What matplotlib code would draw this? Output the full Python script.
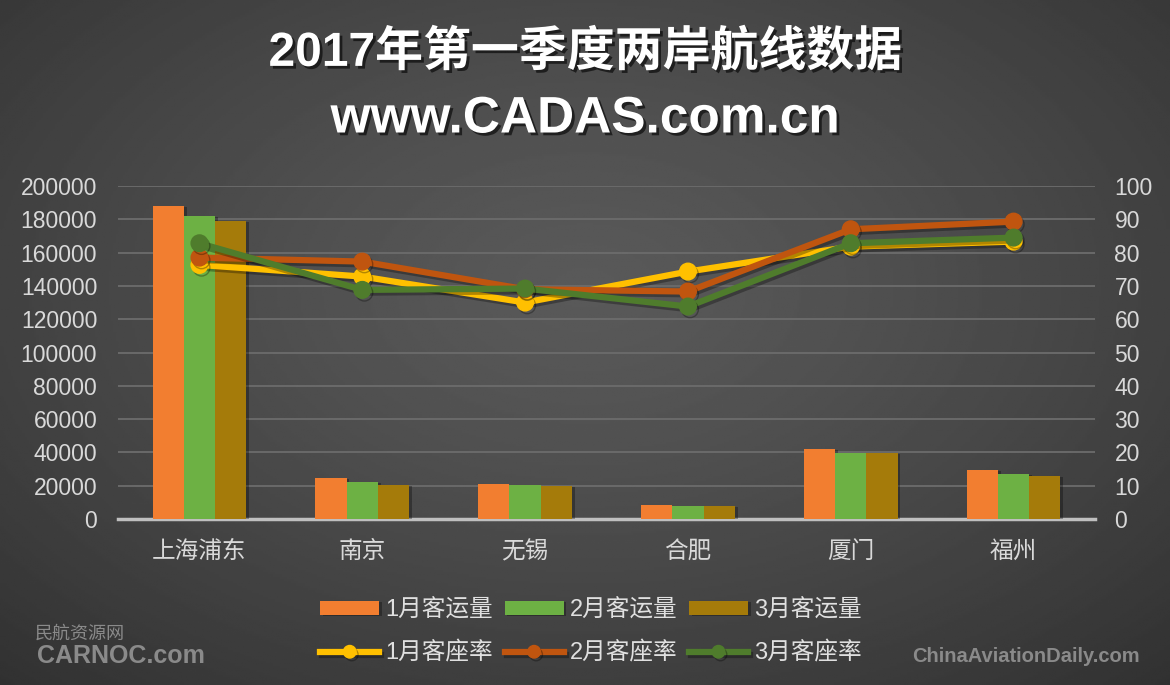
import numpy as np
import matplotlib.pyplot as plt
from matplotlib import patheffects as pe

plt.rcParams['font.family'] = ['Liberation Sans', 'Noto Sans CJK SC']

# data
airports = ['上海浦东', '南京', '无锡', '合肥', '厦门', '福州']
pax_jan = [188000, 24800, 21000, 8400, 42200, 29400]
pax_feb = [182000, 22200, 20400, 7800, 39800, 27000]
pax_mar = [179000, 20400, 19800, 7800, 39600, 26000]
load_jan = [76.3, 72.8, 65.0, 74.3, 81.8, 83.3]
load_feb = [78.5, 77.3, 69.0, 68.3, 87.0, 89.3]
load_mar = [82.8, 68.8, 69.2, 63.8, 82.8, 84.5]
left_ticks = np.arange(0, 200001, 20000)
right_ticks = np.arange(0, 101, 10)

fig = plt.figure(figsize=(11.7, 6.85), dpi=100)

# dark radial background
bg = fig.add_axes([0, 0, 1, 1], zorder=-10)
yy, xx = np.mgrid[0:1:300j, 0:1:500j]
r = np.sqrt(((xx - 0.5) / 0.75) ** 2 + ((yy - 0.42) / 0.8) ** 2)
bg.imshow(0.35 - 0.16 * r ** 1.3, cmap='gray', vmin=0, vmax=1,
          extent=[0, 1, 0, 1], aspect='auto')
bg.axis('off')

ax = fig.add_axes([0.1009, 0.2423, 0.8350, 0.4862])
ax.set_facecolor('none')
x = np.arange(len(airports))
w = 0.192

bar_shadow = [pe.SimplePatchShadow(offset=(2, -1), shadow_rgbFace='black', alpha=0.3), pe.Normal()]
ax.bar(x - w, pax_jan, w, color='#F27E30', label='1月客运量', zorder=3, path_effects=bar_shadow)
ax.bar(x, pax_feb, w, color='#6DB144', label='2月客运量', zorder=3, path_effects=bar_shadow)
ax.bar(x + w, pax_mar, w, color='#A57B0A', label='3月客运量', zorder=3, path_effects=bar_shadow)

ax.set_xlim(-0.5, 5.5)
ax.set_ylim(0, 200000)
ax.set_yticks(left_ticks)
ax.set_xticks(x)
ax.set_xticklabels(airports)
ax.yaxis.grid(True, color='#6c6c6c', lw=1.3, zorder=0)
ax.set_axisbelow(True)
for s in ['top', 'right', 'left']:
    ax.spines[s].set_visible(False)
ax.spines['bottom'].set_color('#bfbfbf')
ax.spines['bottom'].set_linewidth(2.5)
ax.tick_params(length=0, labelcolor='#d9d9d9')
ax.tick_params(axis='y', labelsize=16.5, pad=15)
ax.tick_params(axis='x', labelsize=17, pad=16)

# load factor on right axis
ax2 = ax.twinx()
ax2.set_ylim(0, 100)
ax2.set_yticks(right_ticks)
ax2.tick_params(length=0, labelcolor='#d9d9d9', labelsize=16.5, pad=14)
for s in ax2.spines.values():
    s.set_visible(False)

line_fx = [pe.SimpleLineShadow(offset=(1.5, -2), shadow_color='black', alpha=0.3), pe.Normal()]
lines = []
for vals, col, lab in [(load_jan, '#FFC000', '1月客座率'),
                       (load_feb, '#C0550F', '2月客座率'),
                       (load_mar, '#4F7C2C', '3月客座率')]:
    ln, = ax2.plot(x, vals, color=col, lw=4.5, marker='o', ms=12, label=lab,
                   path_effects=line_fx)
    lines.append(ln)

bars = ax.containers
handles = [bars[0], lines[0], bars[1], lines[1], bars[2], lines[2]]
labels = ['1月客运量', '1月客座率', '2月客运量', '2月客座率', '3月客运量', '3月客座率']
fig.legend(handles, labels, ncol=3, loc='center', bbox_to_anchor=(0.505, 0.078),
           frameon=False, fontsize=17, labelcolor='#e0e0e0', handlelength=2.5,
           handleheight=0.5, handletextpad=0.25, columnspacing=0.5,
           labelspacing=0.85, markerscale=0.75)

# titles
title_fx = [pe.withSimplePatchShadow(offset=(2, -2), shadow_rgbFace='black', alpha=0.6)]
fig.text(0.5, 1 - 53 / 685, '2017年第一季度两岸航线数据', ha='center', va='center',
         fontsize=34.5, weight='bold', color='white', path_effects=title_fx)
fig.text(0.5, 1 - 119 / 685, 'www.CADAS.com.cn', ha='center', va='center',
         fontsize=37, weight='bold', color='white', path_effects=title_fx)

# watermarks
fig.text(35 / 1170, 1 - 634 / 685, '民航资源网', color='#8a8a8a', fontsize=13, va='center')
fig.text(37 / 1170, 1 - 656 / 685, 'CARNOC.com', color='#8a8a8a', fontsize=18,
         weight='bold', va='center')
fig.text(912 / 1170, 1 - 656 / 685, 'ChinaAviationDaily.com', color='#8a8a8a',
         fontsize=14.5, weight='bold', va='center')

fig.savefig('out.png', dpi=100)
